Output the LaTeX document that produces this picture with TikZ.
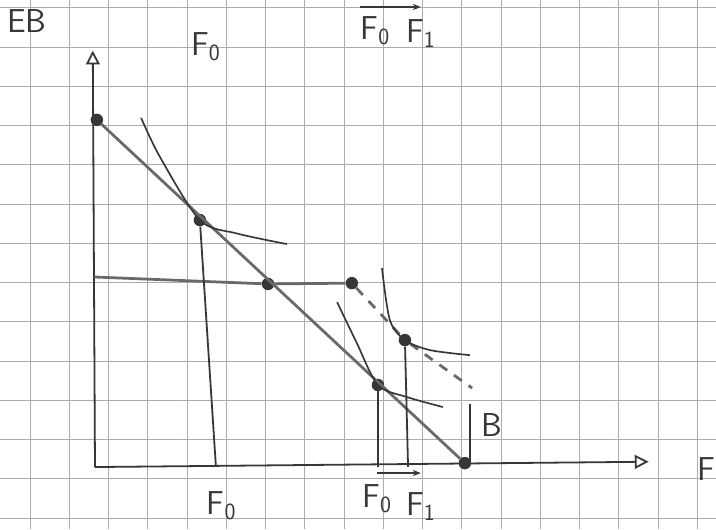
\documentclass[tikz,border=0pt]{standalone}
\usepackage{xcolor}
\usepackage{tikz}
\usetikzlibrary{arrows.meta}

\definecolor{gridblue}{RGB}{170,170,184}
\definecolor{pencil}{RGB}{55,55,55}
\definecolor{lead}{RGB}{105,105,105}

\begin{document}
\begin{tikzpicture}[x=0.8cm, y=0.711cm,
  gridline/.style={draw=gridblue, line width=0.6pt},
  axisline/.style={draw=pencil, line width=1.3pt},
  budget/.style={draw=lead, line width=2pt},
  curveline/.style={draw=pencil, line width=1.2pt},
  joint/.style={circle, fill=pencil, inner sep=0pt, minimum size=9pt},
  hand/.style={font=\sffamily\fontsize{24}{28}\selectfont, text=pencil, inner sep=0pt},
  tip/.style={-{Triangle[open, length=10pt, width=10pt, line width=1.3pt]}}]
\useasboundingbox (-0.955,-0.394) rectangle (21.847,18.566);
\fill[white] (-0.955,-0.394) rectangle (21.847,18.566);
\draw[gridline] (-0.955,-0.394) grid (21.847,18.566);

% axes
\coordinate (O) at (2.07,1.83);
\coordinate (ytop) at (2.0,16.75);
\coordinate (xend) at (19.7,2.02);
\draw[axisline, tip] (O) -- (ytop);
\draw[axisline, tip] (O) -- (xend);

% points
\node[joint] (A) at (2.13,14.27) {};
\node[joint] (P0) at (5.41,10.68) {};
\node[joint] (M) at (7.58,8.39) {};
\node[joint] (N) at (10.25,8.42) {};
\node[joint] (P1) at (11.94,6.38) {};
\node[joint] (P2) at (11.08,4.77) {};
\node[joint] (Bend) at (13.85,1.97) {};
\coordinate (dend) at (14.08,4.66);
\coordinate (hleft) at (2.05,8.64);
\coordinate (f0foot) at (5.92,1.86);
\coordinate (p2foot) at (11.08,1.82);
\coordinate (p1foot) at (12.04,1.84);
\coordinate (btop) at (14.01,4.1);
\coordinate (bfoot) at (14.01,2.0);

% budget lines
\draw[budget] (A) -- (Bend);
\draw[budget] (hleft) -- (M) -- (N);
\draw[budget, dashed, dash pattern=on 7pt off 6pt] (N) -- (P1) -- (dend);

% drops to the F axis
\draw[axisline] (P0) -- (f0foot);
\draw[axisline] (P2) -- (p2foot);
\draw[axisline] (P1) -- (p1foot);
\draw[axisline] (btop) -- (bfoot);

% indifference curves
\draw[curveline] plot[smooth] coordinates {(3.54,14.34) (4.14,12.94) (P0) (6.59,10.2) (8.18,9.82)};
\draw[curveline] plot[smooth] coordinates {(9.78,7.74) (10.41,6.27) (P2) (12.0,4.34) (13.15,3.98)};
\draw[curveline] plot[smooth] coordinates {(11.21,8.96) (11.46,7.1) (P1) (12.74,6.02) (14.01,5.84)};

% labels
\node[hand] (eb) at (-0.1,17.8) {EB};
\node[hand] (faxis) at (21.55,1.75) {F};
\node[hand] (blabel) at (14.72,3.35) {B};
\node[hand] (f0top) at (5.6,16.9) {F\textsubscript{0}};
\node[hand] (f0r) at (11.0,17.45) {F\textsubscript{0}};
\node[hand] (f1r) at (12.45,17.35) {F\textsubscript{1}};
\node[hand] (f0low) at (6.1,0.45) {F\textsubscript{0}};
\node[hand] (f0b) at (11.05,0.7) {F\textsubscript{0}};
\node[hand] (f1b) at (12.45,0.4) {F\textsubscript{1}};
\draw[pencil, line width=1.1pt, -{Stealth[length=6pt]}] ([yshift=7pt]f0r.north west) -- ([yshift=7pt]f0r.north west -| f1r.center);
\draw[pencil, line width=1.1pt, -{Stealth[length=6pt]}] ([yshift=8pt]f0b.north) -- ([yshift=8pt]f0b.north -| f1b.center);
\end{tikzpicture}
\end{document}
